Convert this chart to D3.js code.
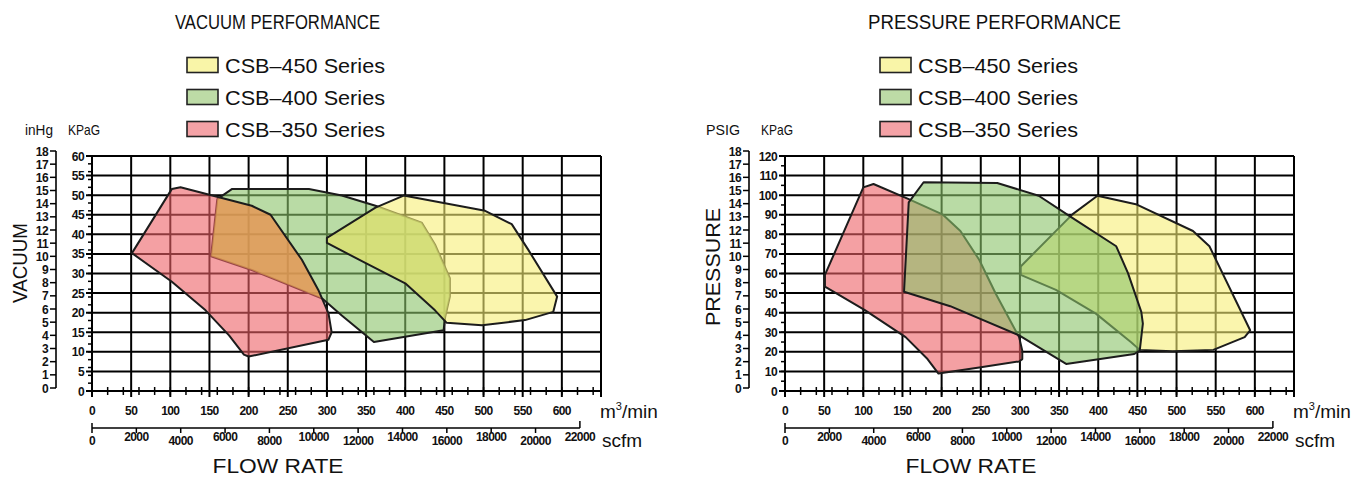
<!DOCTYPE html>
<html>
<head>
<meta charset="utf-8">
<script src="https://cdn.jsdelivr.net/npm/d3@7"></script>
<style>
  body { margin: 0; background: #fff; }
  text { font-family: "Liberation Sans", Arial, sans-serif; fill: #111; }
  .num { font-weight: bold; font-size: 12px; letter-spacing: -0.6px; }
</style>
</head>
<body>
<svg id="chart" width="1353" height="477"></svg>
<script>
// ---------------- data ----------------
var seriesNames = ["CSB–450 Series", "CSB–400 Series", "CSB–350 Series"];

var flowLabels = [0, 50, 100, 150, 200, 250, 300, 350, 400, 450, 500, 550, 600];
var scfmLabels = [0, 2000, 4000, 6000, 8000, 10000, 12000, 14000, 16000, 18000, 20000, 22000];
var gaugeLabels = [0, 1, 2, 3, 4, 5, 6, 7, 8, 9, 10, 11, 12, 13, 14, 15, 16, 17, 18];
var vacuumKpaLabels = [0, 5, 10, 15, 20, 25, 30, 35, 40, 45, 50, 55, 60];
var pressureKpaLabels = [0, 10, 20, 30, 40, 50, 60, 70, 80, 90, 100, 110, 120];

// envelopes: [flow m3/min, KPaG]
var vacuum450 = [[300, 39.1], [362, 46.8], [398, 49.9], [502, 46], [536, 42.6], [557, 36.1], [594, 24.1],
  [589, 20.2], [553, 18.1], [498, 16.8], [453, 17.4], [438, 20.6], [400, 27.5], [349, 32.7], [300, 37.8]];
var vacuum400 = [[160, 49], [179, 51.6], [277, 51.6], [319, 49.9], [362, 47.3], [421, 43], [438, 37.4],
  [457, 28.8], [457, 24.1], [451, 18.9], [449, 15.5], [360, 12.5], [319, 19.3], [294, 23.6], [251, 27.1],
  [204, 30.9], [152, 34.4]];
var vacuum350 = [[51, 35.2], [102, 51.6], [113, 52], [204, 47.3], [228, 45], [268, 33.5], [289, 25.8],
  [302, 19.8], [306, 15], [302, 13.1], [200, 8.8], [194, 9.3], [175, 14.2], [145, 20.6], [102, 27.9]];

var pressure450 = [[301, 63.6], [367, 90.2], [399, 99.7], [448, 95.4], [521, 81.7], [542, 73.9], [594, 31],
  [587, 27.5], [547, 21], [495, 20.3], [453, 21], [442, 24.9], [397, 39.5], [346, 51.6], [301, 59.3]];
var pressure400 = [[152, 50.7], [158, 96.3], [177, 106.6], [271, 106.2], [324, 99.7], [363, 89.4], [423, 73.9],
  [438, 60.2], [455, 40.4], [457, 34.4], [453, 20.6], [446, 18.9], [359, 13.8], [299, 28.4], [211, 43.3]];
var pressure350 = [[51, 59.3], [100, 104], [113, 105.7], [158, 98], [201, 90.2], [224, 81.7], [248, 67],
  [269, 49.8], [299, 27.5], [303, 20.6], [303, 16.3], [299, 15.1], [248, 12], [196, 8.9], [182, 16.3],
  [154, 27.5], [102, 41.3], [51, 53.3]];

var CFM_PER_M3 = 35.31;

// ---------------- layout ----------------
var fills = ["#f7ee76", "#8ac369", "#ed6166"];
var legendFills = ["#f9f5a8", "#bddba6", "#f4a2a6"];
var plotTop = 156, plotBottom = 391, plotLeft = 92, plotWidth = 509;

var svg = d3.select("#chart");

function drawChart(c) {
  var g = svg.append("g").attr("transform", "translate(" + c.dx + ",0)");

  var x = d3.scaleLinear().domain([0, 650]).range([plotLeft, plotLeft + plotWidth]);
  var y = d3.scaleLinear().domain([0, c.yMax]).range([plotBottom, plotTop]);
  var gauge = d3.scaleLinear().domain([0, 18]).range([plotBottom - 3, 151]);
  var scfm = d3.scaleLinear().domain([0, 650 * CFM_PER_M3]).range(x.range());

  // title + legend
  g.append("text").attr("x", 175).attr("y", 29).attr("font-size", 20)
    .attr("textLength", c.titleLen).attr("lengthAdjust", "spacingAndGlyphs").text(c.title);

  var leg = g.selectAll(".leg").data(seriesNames).enter().append("g")
    .attr("transform", function(d, i) { return "translate(0," + (65 + i * 32) + ")"; });
  leg.append("rect").attr("x", 187).attr("y", -7.5).attr("width", 31).attr("height", 15)
    .attr("fill", function(d, i) { return legendFills[i]; })
    .attr("stroke", "#222").attr("stroke-width", 1.6);
  leg.append("text").attr("x", 225).attr("y", 7.5).attr("font-size", 21)
    .attr("textLength", 160).attr("lengthAdjust", "spacingAndGlyphs").text(function(d) { return d; });

  // grid
  g.selectAll(".vgrid").data(x.ticks(13)).enter().append("line")
    .attr("x1", x).attr("x2", x).attr("y1", plotTop).attr("y2", plotBottom + 6)
    .attr("stroke", "#000").attr("stroke-width", 2);
  g.selectAll(".hgrid").data(y.ticks(12)).enter().append("line")
    .attr("x1", plotLeft - 6).attr("x2", plotLeft + plotWidth).attr("y1", y).attr("y2", y)
    .attr("stroke", "#000").attr("stroke-width", 2);
  // minor ticks
  g.selectAll(".ymin").data(y.ticks(24)).enter().append("line")
    .attr("x1", plotLeft - 4).attr("x2", plotLeft).attr("y1", y).attr("y2", y)
    .attr("stroke", "#000").attr("stroke-width", 1.5);
  g.selectAll(".xmin").data(x.ticks(26)).enter().append("line")
    .attr("x1", x).attr("x2", x).attr("y1", plotBottom - 4).attr("y2", plotBottom + 4)
    .attr("stroke", "#000").attr("stroke-width", 1.5);

  // envelopes
  var line = d3.line().x(function(d) { return x(d[0]); }).y(function(d) { return y(d[1]); })
    .curve(d3.curveLinearClosed);
  var clipId = "clip" + c.dx;
  g.append("clipPath").attr("id", clipId).append("path").attr("d", line(c.series[1]));

  c.order.forEach(function(i) {
    g.append("path").attr("d", line(c.series[i])).attr("fill", fills[i]).attr("fill-opacity", 0.6);
    if (c.patches && c.patches[i]) {
      g.append("path").attr("d", line(c.series[i])).attr("clip-path", "url(#" + clipId + ")")
        .attr("fill", c.patches[i]).attr("fill-opacity", 0.6);
    }
    g.append("path").attr("d", line(c.series[i])).attr("fill", "none")
      .attr("stroke", "#1c1c1c").attr("stroke-width", 2).attr("stroke-linejoin", "round");
  });

  // KPaG labels
  g.selectAll(".ylab").data(c.kpaLabels).enter().append("text").attr("class", "num")
    .attr("x", plotLeft - 8).attr("y", function(d) { return y(d) + 4.5; })
    .attr("text-anchor", "end").text(function(d) { return d; });

  // gauge axis (inHg / PSIG)
  g.append("line").attr("x1", 56).attr("x2", 56).attr("y1", gauge(18)).attr("y2", gauge(0))
    .attr("stroke", "#000").attr("stroke-width", 1.6);
  g.selectAll(".gtick").data(gaugeLabels).enter().append("line")
    .attr("x1", 50).attr("x2", 56).attr("y1", gauge).attr("y2", gauge)
    .attr("stroke", "#000").attr("stroke-width", 1.5);
  g.selectAll(".glab").data(gaugeLabels).enter().append("text").attr("class", "num")
    .attr("x", 48).attr("y", function(d) { return gauge(d) + 4.5; })
    .attr("text-anchor", "end").text(function(d) { return d; });

  g.append("text").attr("x", c.unitX).attr("y", 135).attr("font-size", 15)
    .attr("textLength", c.unitLen).attr("lengthAdjust", "spacingAndGlyphs").text(c.unit);
  g.append("text").attr("x", 68).attr("y", 135).attr("font-size", 15)
    .attr("textLength", 32).attr("lengthAdjust", "spacingAndGlyphs").text("KPaG");

  g.append("text").attr("transform", "translate(" + c.yTitleX + "," + c.yTitleY + ") rotate(-90)")
    .attr("text-anchor", "middle").attr("dy", "0.35em").attr("font-size", 21)
    .attr("textLength", c.yTitleLen).attr("lengthAdjust", "spacingAndGlyphs").text(c.yTitle);

  // flow m3/min labels
  g.selectAll(".xlab").data(flowLabels).enter().append("text").attr("class", "num")
    .attr("x", x).attr("y", 415).attr("text-anchor", "middle").text(function(d) { return d; });
  var mu = g.append("text").attr("x", plotLeft + plotWidth - 1).attr("y", 418).attr("font-size", 19);
  mu.append("tspan").text("m");
  mu.append("tspan").attr("dy", -8).attr("font-size", 11).text("3");
  mu.append("tspan").attr("dy", 8).text("/min");

  // scfm axis
  g.append("line").attr("x1", scfm(0)).attr("x2", scfm(22000)).attr("y1", 428).attr("y2", 428)
    .attr("stroke", "#000").attr("stroke-width", 1.6);
  g.selectAll(".stick").data(scfmLabels).enter().append("line")
    .attr("x1", scfm).attr("x2", scfm)
    .attr("y1", function(d, i) { return i === 0 ? 423 : (i === scfmLabels.length - 1 ? 421 : 428); })
    .attr("y2", function(d, i) { return i === scfmLabels.length - 1 ? 428 : 433; })
    .attr("stroke", "#000").attr("stroke-width", 1.5);
  g.selectAll(".slab").data(scfmLabels).enter().append("text").attr("class", "num")
    .attr("x", scfm).attr("y", function(d, i) { return i % 2 === 1 ? 441 : 445; })
    .attr("text-anchor", "middle").text(function(d) { return d; });
  g.append("text").attr("x", plotLeft + plotWidth + 1).attr("y", 447).attr("font-size", 19).text("scfm");

  g.append("text").attr("x", 278).attr("y", 473).attr("font-size", 20).attr("text-anchor", "middle")
    .attr("textLength", 131).attr("lengthAdjust", "spacingAndGlyphs").text("FLOW RATE");
}

drawChart({
  dx: 0, title: "VACUUM PERFORMANCE", titleLen: 205, yMax: 60, kpaLabels: vacuumKpaLabels,
  unit: "inHg", unitX: 25, unitLen: 28, yTitle: "VACUUM", yTitleX: 20, yTitleY: 263, yTitleLen: 80,
  series: [vacuum450, vacuum400, vacuum350], order: [1, 2, 0],
  patches: {2: "#e2ad4f", 0: "#cfda70"}
});
drawChart({
  dx: 693, title: "PRESSURE PERFORMANCE", titleLen: 253, yMax: 120, kpaLabels: pressureKpaLabels,
  unit: "PSIG", unitX: 13, unitLen: 34, yTitle: "PRESSURE", yTitleX: 20, yTitleY: 267, yTitleLen: 118,
  series: [pressure450, pressure400, pressure350], order: [2, 0, 1]
});
</script>
</body>
</html>
